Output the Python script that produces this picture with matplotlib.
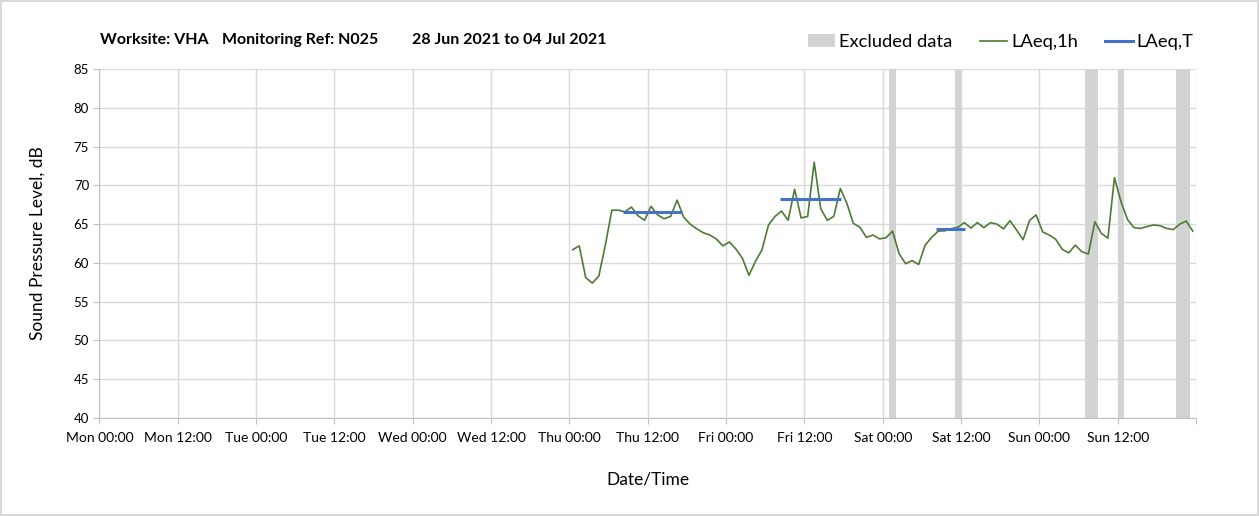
import numpy as np
import matplotlib.pyplot as plt
from matplotlib.patches import Patch
from matplotlib.lines import Line2D

plt.rcParams['font.family'] = ['Lato', 'DejaVu Sans']

# hourly LAeq,1h values, plotted at mid-hour (hours since Mon 00:00)
start_hour = 72.5
laeq_1h = [61.7, 62.2, 58.1, 57.4, 58.3, 62.3, 66.8, 66.8, 66.6, 67.2,
           66.1, 65.5, 67.3, 66.2, 65.7, 66.0, 68.1, 65.9, 65.0, 64.4,
           63.9, 63.6, 63.1, 62.2, 62.7, 61.8, 60.6, 58.4, 60.2, 61.7,
           64.9, 66.0, 66.7, 65.5, 69.5, 65.8, 66.0, 73.0, 67.0, 65.5,
           66.0, 69.6, 67.7, 65.1, 64.6, 63.3, 63.6, 63.1, 63.25, 64.1,
           61.2, 59.9, 60.3, 59.8, 62.3, 63.3, 64.1, 64.15, 64.4, 64.6,
           65.2, 64.5, 65.2, 64.55, 65.2, 65.0, 64.4, 65.45, 64.25, 63.0,
           65.5, 66.2, 64.0, 63.6, 63.05, 61.75, 61.3, 62.3, 61.45, 61.15,
           65.3, 63.8, 63.2, 71.0, 67.9, 65.6, 64.55, 64.45, 64.7, 64.9,
           64.8, 64.45, 64.3, 65.0, 65.4, 64.1]

# LAeq,T periods: (start hour, end hour, level)
laeq_t_start = [80.2, 104.2, 128.2]
laeq_t_end = [89.3, 113.6, 132.6]
laeq_t_level = [66.6, 68.2, 64.4]

# excluded data bands (hours)
excl_start = [121, 131, 151, 156, 165]
excl_end = [122, 132, 153, 157, 167]

tick_labels = ['Mon 00:00', 'Mon 12:00', 'Tue 00:00', 'Tue 12:00', 'Wed 00:00',
               'Wed 12:00', 'Thu 00:00', 'Thu 12:00', 'Fri 00:00', 'Fri 12:00',
               'Sat 00:00', 'Sat 12:00', 'Sun 00:00', 'Sun 12:00', '']

title_parts = ['Worksite: VHA', 'Monitoring Ref: N025', '28 Jun 2021 to 04 Jul 2021']

hours = start_hour + np.arange(len(laeq_1h))

fig = plt.figure(figsize=(12.59, 5.16), dpi=100)
fig.patch.set_edgecolor('#d9d9d9')
fig.patch.set_linewidth(1.5)
ax = fig.add_axes([0.079, 0.190, 0.871, 0.676])

for s, e in zip(excl_start, excl_end):
    ax.axvspan(s, e, color='#d3d3d3', lw=0, zorder=1)

ax.plot(hours, laeq_1h, color='#4e7a36', lw=1.2, zorder=3)
ax.hlines(laeq_t_level, laeq_t_start, laeq_t_end, color='#4472c4', lw=2.2, zorder=4)

ax.set_xlim(0, 168)
ax.set_ylim(40, 85)
ax.set_xticks(np.arange(0, 169, 12))
ax.set_xticklabels(tick_labels, fontsize=10)
ax.set_yticks(np.arange(40, 86, 5))
ax.tick_params(axis='y', labelsize=9.5, length=4, color='#bfbfbf')
ax.tick_params(axis='x', length=4, color='#bfbfbf', pad=6)
ax.grid(True, color='#d9d9d9', lw=1)
ax.set_axisbelow(True)
for side in ['top', 'right']:
    ax.spines[side].set_visible(False)
for side in ['left', 'bottom']:
    ax.spines[side].set_color('#bfbfbf')

ax.set_xlabel('Date/Time', fontsize=12.5, labelpad=20)
ax.set_ylabel('Sound Pressure Level, dB', fontsize=12.5, labelpad=20)

for xpos, txt in zip([100, 222, 412], title_parts):
    fig.text(xpos / 1259, 0.923, txt, fontsize=11.5, fontweight='bold', va='center')

handles = [Patch(facecolor='#d3d3d3', edgecolor='none', label='Excluded data'),
           Line2D([], [], color='#4e7a36', lw=1.2, label='LAeq,1h'),
           Line2D([], [], color='#4472c4', lw=2.2, label='LAeq,T')]
fig.legend(handles=handles, loc='center right', bbox_to_anchor=(0.961, 0.918),
           ncol=3, frameon=False, fontsize=13.2, handlelength=1.5,
           handletextpad=0.2, columnspacing=1.5)

fig.savefig('out.png', dpi=100)
